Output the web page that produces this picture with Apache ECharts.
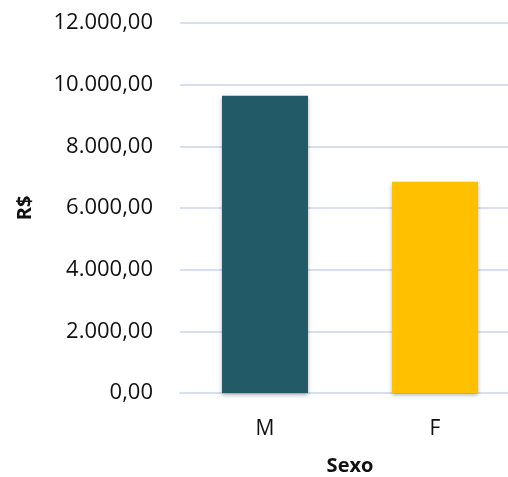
<!DOCTYPE html>
<html>
<head>
<meta charset="utf-8">
<script src="https://cdn.jsdelivr.net/npm/echarts@6/dist/echarts.min.js"></script>
<style>
  html, body { margin: 0; padding: 0; background: #fff; overflow: hidden; }
  #chart { width: 508px; height: 477px; }
</style>
</head>
<body>
<div id="chart"></div>
<script>
const categories = ["M", "F"];
const values = [9640, 6850];
const barColors = ["#225A68", "#FFC000"];

const fmt = (v) => {
  const parts = v.toFixed(2).split(".");
  return parts[0].replace(/\B(?=(\d{3})+(?!\d))/g, ".") + "," + parts[1];
};

const chart = echarts.init(document.getElementById("chart"));
chart.setOption({
  animation: false,
  textStyle: { fontFamily: "Open Sans" },
  // plot area runs past the right edge of the picture, like the source image
  grid: { left: 180, width: 340, top: 23, bottom: 84, outerBoundsMode: "none" },
  xAxis: {
    type: "category",
    data: categories,
    name: "Sexo",
    nameLocation: "middle",
    nameGap: 63,
    nameTextStyle: { fontSize: 20, fontWeight: "bold", color: "#111" },
    axisLine: { lineStyle: { color: "#D6E0F0", width: 2 } },
    axisTick: { show: false },
    axisLabel: { fontSize: 21, color: "#111", margin: 26 }
  },
  yAxis: {
    type: "value",
    min: 0,
    max: 12000,
    interval: 2000,
    name: "R$",
    nameLocation: "middle",
    nameGap: 145,
    nameTextStyle: { fontSize: 20, fontWeight: "bold", color: "#111" },
    axisLine: { show: false },
    axisTick: { show: false },
    axisLabel: { fontSize: 22, color: "#111", margin: 27, formatter: fmt },
    splitLine: { lineStyle: { color: "#D6E0F0", width: 2 } }
  },
  series: [{
    type: "bar",
    barWidth: 86,
    data: values.map((v, i) => ({
      value: v,
      itemStyle: {
        color: barColors[i],
        shadowColor: "rgba(0,0,0,0.3)",
        shadowBlur: 4,
        shadowOffsetY: 2
      }
    }))
  }]
});
</script>
</body>
</html>
